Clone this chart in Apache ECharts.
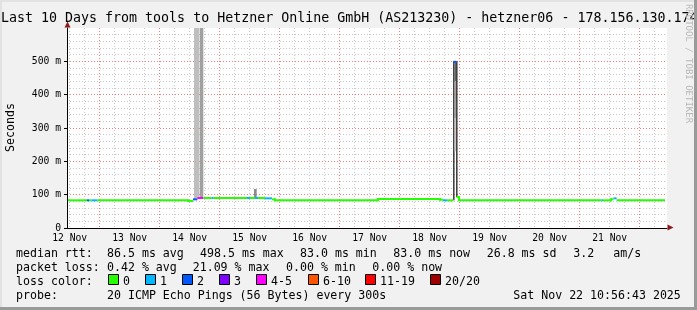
<!DOCTYPE html>
<html><head><meta charset="utf-8">
<script src="https://cdn.jsdelivr.net/npm/echarts@6/dist/echarts.min.js"></script>
<style>html,body{margin:0;padding:0;background:#f1f1f1}#c{width:697px;height:310px}</style>
</head><body><div id="c"></div>
<script>
// Time unit: hours since 12 Nov 00:00
const startHour = 10.95;   // 12 Nov 10:57
const endHour = 250.95;    // 22 Nov 10:57
const xLabelHours = [12, 36, 60, 84, 108, 132, 156, 180, 204, 228];
const xLabels = ['12 Nov','13 Nov','14 Nov','15 Nov','16 Nov','17 Nov','18 Nov','19 Nov','20 Nov','21 Nov'];
const yTickValues = [0, 100, 200, 300, 400, 500];
const yTickLabels = ['0', '100 m', '200 m', '300 m', '400 m', '500 m'];

// Median RTT (ms) as steps: segment start hour, median, lost pings (of 20)
const segStart  = [10.95, 18.95, 19.95, 20.75, 23.15, 59.35, 61.35, 63.1, 65.5, 68.8, 69.6, 82.95, 84.15, 86.15, 87.35, 90.15, 92.95, 94.15, 135.35, 160.15, 161.35, 162.95, 165.55, 166.75, 167.75, 224.75, 225.35, 228.55, 229.5, 230.8];
const segMedian = [83,    83,    83,    83,    83,    81,    86,    90,   90,   90,   90,   90,    90,    90,    90,    89,    86,    83,    87,     85,     83,     83,     498.5,  93,     83,     83,     83,     86,     89,    83];
const segLoss   = [0,     2,     0,     1,     0,     0,     2,     4,    0,    1,    0,    1,     0,     1,     0,     1,     0,     0,     0,      0,      1,      0,      2,      0,      0,      1,      0,      0,      1,     0];
const segEnd = 250.15;

// Smoke (ping spread): start hour, end hour, low ms, high ms, density 0..1
const smokeStart   = [61.75, 64.0,  85.75, 165.4,  165.95, 165.95, 165.95, 166.6];
const smokeEnd     = [63.75, 65.47, 86.83, 165.95, 166.6,  166.6,  166.6,  167.15];
const smokeLow     = [88,    90,    91,    83,     440,    330,    230,    93];
const smokeHigh    = [640,   640,   117,   500,    500,    440,    330,    500];
const smokeDensity = [0.2,   0.35,  0.45,  0.95,   0.65,   0.35,   0.15,   0.95];

// Legend texts
const lossLabels = ['0','1','2','3','4-5','6-10','11-19','20/20'];
const lossColors = ['#26ff00','#00b8ff','#0059ff','#7e00ff','#ff00ff','#ff5500','#ff0000','#a10000'];
const statRtt = ['86.5 ms avg', '498.5 ms max', '83.0 ms min', '83.0 ms now', '26.8 ms sd', '3.2', 'am/s'];
const statLoss = ['0.42 % avg', '21.09 % max', '0.00 % min', '0.00 % now'];
const titleText = 'Last 10 Days from tools to Hetzner Online GmbH (AS213230) - hetzner06 - 178.156.130.174';
const probeText = '20 ICMP Echo Pings (56 Bytes) every 300s';
const dateText = 'Sat Nov 22 10:56:43 2025';

function lossClass(p){ if(p<=3) return p; if(p<=5) return 4; if(p<=10) return 5; if(p<=19) return 6; return 7; }

const medianData = segStart.map((s,i)=>[s, i<segStart.length-1?segStart[i+1]:segEnd, segMedian[i], lossClass(segLoss[i])]);
const smokeData = smokeStart.map((s,i)=>[s, smokeEnd[i], smokeLow[i], smokeHigh[i], smokeDensity[i]]);

const majorX = [], minorX = [];
for (let h = 6; h < endHour; h += 6) { if (h <= startHour) continue; if (h % 24 === 0) majorX.push(h); else minorX.push(h); }
const minorY = []; for (let v = 20; v <= 600; v += 20) if (v % 100 !== 0) minorY.push(v);

const FONT = 'DejaVu Sans Mono';
const chart = echarts.init(document.getElementById('c'), null, {renderer:'canvas'});
const G = {left:67, top:28, width:600, height:200};
const dotGray = {color:'#c8c8c8', width:1, type:[1,2]};
const dotRed = {color:'#ec8080', width:1, type:[1,2]};

const textRows = [];
function txt(x, y, s, extra){ textRows.push(Object.assign({type:'text', x:x, y:y, silent:true, style:{text:s, fill:'#000', font:'11.6px "'+FONT+'"', textVerticalAlign:'middle'}}, extra||{})); }
txt(1, 19, titleText, {style:{text:titleText, fill:'#000', font:'13.3px "'+FONT+'"', textVerticalAlign:'middle'}});
txt(16, 253.5, 'median rtt:');
[107, 200, 300, 393.3, 486.7, 573.3, 613.3].forEach((x,i)=>txt(x, 253.5, statRtt[i]));
txt(16, 267.5, 'packet loss:');
[107, 192.7, 286, 372.3].forEach((x,i)=>txt(x, 267.5, statLoss[i]));
txt(16, 281.5, 'loss color:');
const boxX = [108, 145, 182, 219, 256, 308, 365, 430];
lossLabels.forEach((l,i)=>{
  textRows.push({type:'rect', shape:{x:boxX[i]+0.5, y:274.5, width:10, height:10}, style:{fill:lossColors[i], stroke:'#000', lineWidth:1}, silent:true});
  txt(boxX[i]+15, 281.5, l);
});
txt(16, 295.5, 'probe:');
txt(107, 295.5, probeText);
txt(513.3, 295.5, dateText);
// Y axis title
textRows.push({type:'text', x:10.5, y:127.5, rotation:Math.PI/2, silent:true, style:{text:'Seconds', fill:'#000', font:'11.6px "'+FONT+'"', textAlign:'center', textVerticalAlign:'middle'}});
// rrdtool watermark
textRows.push({type:'text', x:688.5, y:63.5, rotation:-Math.PI/2, silent:true, z:100, style:{text:'RRDTOOL / TOBI OETIKER', fill:'#b8b8b8', font:'9px "'+FONT+'"', textAlign:'center', textVerticalAlign:'middle'}});
// frame shading
textRows.push({type:'rect', shape:{x:0,y:0,width:697,height:2}, style:{fill:'#e2e2e2'}, silent:true});
textRows.push({type:'rect', shape:{x:0,y:0,width:2,height:310}, style:{fill:'#e2e2e2'}, silent:true});
textRows.push({type:'rect', shape:{x:0,y:307,width:697,height:3}, style:{fill:'#9a9a9a'}, silent:true});
textRows.push({type:'rect', shape:{x:694,y:0,width:3,height:310}, style:{fill:'#9a9a9a'}, silent:true});
// axis arrows
textRows.push({type:'polygon', shape:{points:[[67.5,21.5],[64.5,27.5],[70.5,27.5]]}, style:{fill:'#8b1a1a'}, silent:true, z:50});
textRows.push({type:'polygon', shape:{points:[[673.5,227.5],[667.5,224.5],[667.5,230.5]]}, style:{fill:'#8b1a1a'}, silent:true, z:50});

chart.setOption({
  animation:false,
  backgroundColor:'#f1f1f1',
  grid:[{left:G.left, top:G.top, width:G.width, height:G.height, show:true, backgroundColor:'#ffffff', borderWidth:0}],
  xAxis:[
    {type:'value', min:startHour, max:endHour, gridIndex:0, position:'bottom', z:10,
     axisLine:{show:true, onZero:false, lineStyle:{color:'#000', width:1}},
     axisTick:{show:false, customValues:xLabelHours},
     splitLine:{show:false},
     axisLabel:{customValues:xLabelHours, formatter:(v)=>xLabels[xLabelHours.indexOf(v)] || '', fontFamily:FONT, fontSize:9.7, color:'#000', margin:5}},
    {type:'value', min:startHour, max:endHour, gridIndex:0, show:true,
     axisLine:{show:false}, axisLabel:{show:false},
     axisTick:{show:false, customValues:minorX},
     splitLine:{show:true, lineStyle:dotGray}},
    {type:'value', min:startHour, max:endHour, gridIndex:0, show:true,
     axisLine:{show:false}, axisLabel:{show:false},
     axisTick:{show:false, customValues:majorX},
     splitLine:{show:true, lineStyle:dotRed}}
  ],
  yAxis:[
    {type:'value', min:0, max:600, gridIndex:0, z:10,
     axisLine:{show:true, onZero:false, lineStyle:{color:'#000', width:1}},
     axisTick:{show:true, length:3, customValues:yTickValues, lineStyle:{color:'#000'}},
     splitLine:{show:false},
     axisLabel:{customValues:yTickValues, formatter:(v)=>yTickLabels[yTickValues.indexOf(v)] || '', fontFamily:FONT, fontSize:9.7, color:'#000', margin:6}},
    {type:'value', min:0, max:600, gridIndex:0, show:true,
     axisLine:{show:false}, axisLabel:{show:false},
     axisTick:{show:false, customValues:minorY},
     splitLine:{show:true, lineStyle:dotGray}},
    {type:'value', min:0, max:600, gridIndex:0, show:true,
     axisLine:{show:false}, axisLabel:{show:false},
     axisTick:{show:false, customValues:[100,200,300,400,500]},
     splitLine:{show:true, lineStyle:dotRed}}
  ],
  series:[
    {type:'custom', name:'smoke', xAxisIndex:0, yAxisIndex:0, clip:true, z:3,
     data:smokeData, encode:{x:[0,1], y:[2,3]},
     renderItem:(params, api)=>{
       const p1 = api.coord([api.value(0), api.value(3)]);
       const p2 = api.coord([api.value(1), api.value(2)]);
       const d = api.value(4);
       const g = Math.round(230 - d*200);
       const rect = echarts.graphic.clipRectByRect({x:p1[0], y:p1[1], width:p2[0]-p1[0], height:p2[1]-p1[1]},
         {x:params.coordSys.x, y:params.coordSys.y, width:params.coordSys.width, height:params.coordSys.height});
       if(!rect) return;
       return {type:'rect', shape:rect, style:{fill:'rgb('+g+','+g+','+g+')'}};
     }},
    {type:'custom', name:'median', xAxisIndex:0, yAxisIndex:0, clip:true, z:5,
     data:medianData, encode:{x:[0,1], y:2},
     renderItem:(params, api)=>{
       const i = params.dataIndex;
       const s = api.value(0), e = api.value(1), v = api.value(2), c = api.value(3);
       const a = api.coord([s, v]), b = api.coord([e, v]);
       const kids = [{type:'line', shape:{x1:a[0], y1:a[1], x2:b[0], y2:b[1]}, style:{stroke:lossColors[c], lineWidth:2, lineCap:'butt'}}];
       if (i > 0 && medianData[i-1][3] === c && medianData[i-1][2] !== v) {
         const pv = api.coord([s, medianData[i-1][2]]);
         kids.push({type:'line', shape:{x1:a[0], y1:pv[1], x2:a[0], y2:a[1]}, style:{stroke:lossColors[c], lineWidth:2, lineCap:'square'}});
       }
       return {type:'group', children:kids};
     }}
  ],
  graphic: textRows
});
</script></body></html>
